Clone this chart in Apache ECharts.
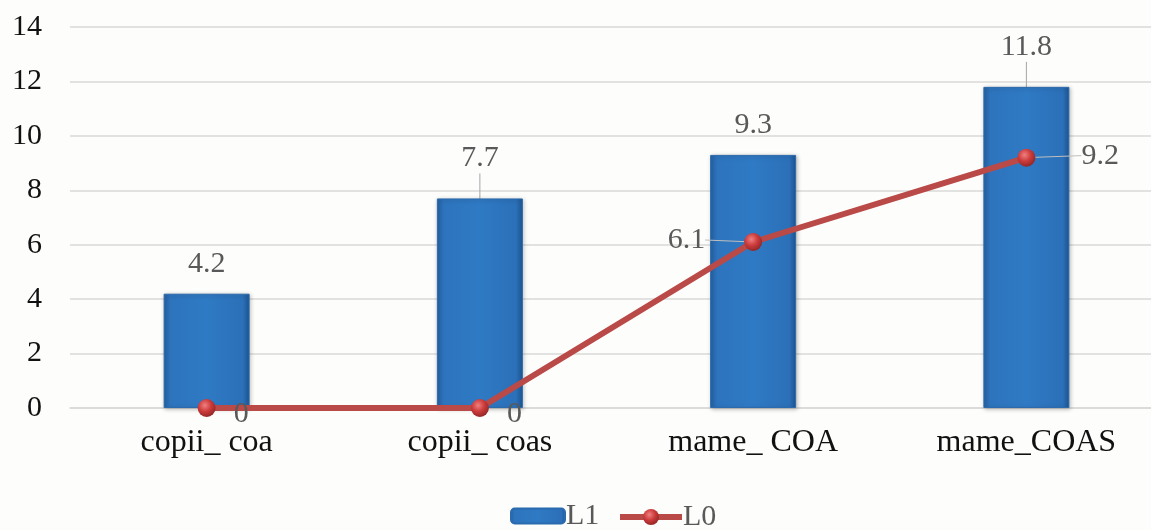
<!DOCTYPE html>
<html><head><meta charset="utf-8">
<script src="https://cdn.jsdelivr.net/npm/echarts@6/dist/echarts.min.js"></script>
<style>html,body{margin:0;padding:0;background:#fdfdfb}#c{width:1151px;height:530px}</style>
</head><body><div id="c"></div>
<script>
const categories = ['copii_ coa', 'copii_ coas', 'mame_ COA', 'mame_COAS'];
const L1 = [4.2, 7.7, 9.3, 11.8];
const L0 = [0, 0, 6.1, 9.2];
const yTicks = {min: 0, max: 14, interval: 2};

const barLabelDy = [0, -10, 0, -10];
const barLeader = [false, true, false, true];
const lineLabelPos = ['right', 'right', 'left', 'right'];
const lineLabelShift = [[14, 6], [14, 6], [-35, -2], [42, -2]];
const lineLeader = [false, false, true, true];
const serif = '"Liberation Serif", "DejaVu Serif", serif';
const legendText = {fontFamily: serif, fontSize: 30, color: '#595959', padding: [0,0,0,-4]};
const chart = echarts.init(document.getElementById('c'));
chart.setOption({
  backgroundColor: '#fdfdfb',
  animation: false,
  grid: {left: 70, top: 27, bottom: 122, width: 1093, outerBoundsMode: 'none', containLabel: false},
  legend: [
    {left: 505, top: 496, itemWidth: 54, itemHeight: 15, textStyle: legendText, data: ['L1']},
    {left: 612, top: 497, itemWidth: 62, itemHeight: 20, textStyle: legendText,
     data: [{name: 'L0', lineStyle: {width: 6}}]}
  ],
  xAxis: {
    type: 'category', data: categories,
    axisLine: {show: true, lineStyle: {color: '#d9d9d9', width: 1.5}},
    axisTick: {show: false},
    axisLabel: {fontFamily: serif, fontSize: 32, color: '#111', margin: 19}
  },
  yAxis: {
    type: 'value', min: yTicks.min, max: yTicks.max, interval: yTicks.interval,
    axisLine: {show: false}, axisTick: {show: false},
    splitLine: {lineStyle: {color: '#d9d9d9', width: 1.5}},
    axisLabel: {fontFamily: serif, fontSize: 30, color: '#111', margin: 28}
  },
  series: [
    {
      name: 'L1', type: 'bar', barWidth: 86,
      data: L1.map((v, i) => ({value: v, labelLine: {show: barLeader[i]}})),
      itemStyle: {
        color: new echarts.graphic.LinearGradient(0, 0, 1, 0, [
          {offset: 0, color: '#2561a3'},
          {offset: 0.08, color: '#2d74bd'},
          {offset: 0.5, color: '#2f7ac4'},
          {offset: 0.92, color: '#2b70b8'},
          {offset: 1, color: '#1d5594'}
        ]),
        borderColor: '#2b6aad', borderWidth: 1,
        shadowColor: 'rgba(0,0,0,0.25)', shadowBlur: 4, shadowOffsetX: 1, shadowOffsetY: 1
      },
      label: {show: true, position: 'top', distance: 15, fontFamily: serif, fontSize: 30, color: '#595959'},
      labelLayout: function (p) { return {dy: barLabelDy[p.dataIndex]}; },
      labelLine: {show: true, lineStyle: {color: '#a6a6a6', width: 1}}
    },
    {
      name: 'L0', type: 'line', z: 5,
      data: L0.map((v, i) => ({value: v, label: {position: lineLabelPos[i]}, labelLine: {show: lineLeader[i]}})),
      lineStyle: {color: '#b94a48', width: 6},
      symbol: 'circle', symbolSize: 18,
      itemStyle: {
        color: new echarts.graphic.RadialGradient(0.4, 0.35, 0.7, [
          {offset: 0, color: '#f08080'},
          {offset: 0.5, color: '#cc3b3b'},
          {offset: 1, color: '#8e2424'}
        ]),
        borderWidth: 0
      },
      label: {show: true, distance: 4, fontFamily: serif, fontSize: 30, color: '#595959'},
      labelLayout: function (p) { const s = lineLabelShift[p.dataIndex]; return {dx: s[0], dy: s[1]}; },
      labelLine: {show: true, lineStyle: {color: '#bfbfbf', width: 1}}
    }
  ]
});
</script></body></html>
